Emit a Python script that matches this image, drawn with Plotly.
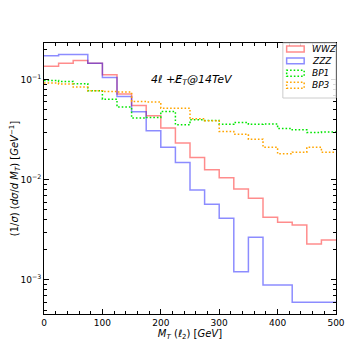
import plotly.graph_objects as go

# bin edges in GeV (25 GeV bins)
bin_edges = [0, 25, 50, 75, 100, 125, 150, 175, 200, 225, 250,
             275, 300, 325, 350, 375, 400, 425, 450, 475, 500]

# normalised distributions (1/sigma dsigma/dMT)
wwz = [0.136, 0.146, 0.156, 0.146, 0.112, 0.072, 0.0553, 0.0437, 0.0329, 0.0234,
       0.0167, 0.0126, 0.0105, 0.0081, 0.00656, 0.00424, 0.00378, 0.00355, 0.00229, 0.00251]
zzz = [0.174, 0.179, 0.179, 0.146, 0.105, 0.068, 0.048, 0.031, 0.0212, 0.0149,
       0.0079, 0.0057, 0.00414, 0.00121, 0.00267, 0.00089, 0.00089, 0.000598, 0.000598, 0.000598]
bp1 = [0.0985, 0.0962, 0.0912, 0.0776, 0.064, 0.0533, 0.0414, 0.042, 0.0482, 0.0355,
       0.0398, 0.0392, 0.036, 0.0375, 0.036, 0.0362, 0.0326, 0.0316, 0.0297, 0.030]
bp3 = [0.0926, 0.0905, 0.0845, 0.0776, 0.0765, 0.0755, 0.0607, 0.060, 0.052, 0.052,
       0.0407, 0.039, 0.0304, 0.0286, 0.0255, 0.0212, 0.0182, 0.0189, 0.0212, 0.0189]

DOTTED = "1.6px,2px"  # matplotlib-like ':' pattern
series = [
    ("WWZ", wwz, "rgba(255,0,0,0.45)", "solid"),
    ("ZZZ", zzz, "rgba(0,0,255,0.45)", "solid"),
    ("BP1", bp1, "rgb(0,230,0)", DOTTED),
    ("BP3", bp3, "rgb(255,165,0)", DOTTED),
]

fig = go.Figure()
for name, vals, col, dash in series:
    fig.add_trace(go.Scatter(
        x=bin_edges, y=list(vals) + [vals[-1]], mode="lines", line_shape="hv",
        line=dict(color=col, width=1.5, dash=dash), name=name, showlegend=False,
        hoverinfo="skip"))

# hand-drawn legend (matplotlib-style compact box with outlined patches)
shapes = [dict(type="rect", xref="paper", yref="paper", x0=0.818, x1=1.0, y0=0.797, y1=1.0,
               fillcolor="rgba(255,255,255,0.85)", line=dict(color="#cccccc", width=1))]
annotations = []
row_y = [0.978, 0.934, 0.888, 0.844]
for (name, vals, col, dash), yy in zip(series, row_y):
    shapes.append(dict(type="rect", xref="paper", yref="paper", x0=0.831, x1=0.891,
                       y0=yy - 0.011, y1=yy + 0.011, fillcolor="rgba(0,0,0,0)",
                       line=dict(color=col, width=1.5, dash=dash)))
    annotations.append(dict(x=0.912, y=yy, xref="paper", yref="paper", xanchor="left",
                            yanchor="middle", text="<i>%s</i>" % name, showarrow=False,
                            font=dict(size=9, color="black")))

annotations.append(dict(x=180, y=-1, xref="x", yref="y", xanchor="left", yanchor="middle",
                        text="<i>4ℓ +E̸<sub>T</sub>@14TeV</i>", showarrow=False,
                        font=dict(size=11, color="black")))

axis_common = dict(showline=True, linecolor="black", linewidth=1, mirror="ticks",
                   ticks="inside", tickcolor="black", showgrid=False, zeroline=False,
                   automargin=False,
                   tickfont=dict(family="DejaVu Sans", size=9, color="black"))

# page body adds an 8px offset, so the figure is 346 px and margins are trimmed by 8
fig.update_layout(
    width=346, height=346, margin=dict(l=36, r=18, t=35, b=40),
    plot_bgcolor="white", paper_bgcolor="white",
    font=dict(family="DejaVu Sans", size=9, color="black"),
    xaxis=dict(range=[0, 500], tickvals=[0, 100, 200, 300, 400, 500], ticklen=5,
               minor=dict(ticks="inside", dtick=20, ticklen=3, tickcolor="black"),
               title=dict(text="<i>M<sub>T</sub></i> (<i>ℓ</i><sub>2</sub>) [<i>GeV</i>]",
                          font=dict(size=10), standoff=2),
               **axis_common),
    yaxis=dict(type="log", range=[-3.34, -0.633], ticklen=5,
               tickvals=[1e-3, 1e-2, 1e-1],
               ticktext=["10<sup>−3</sup>", "10<sup>−2</sup>", "10<sup>−1</sup>"],
               minor=dict(ticks="inside", ticklen=3, tickcolor="black",
                          tickvals=[5e-4, 6e-4, 7e-4, 8e-4, 9e-4,
                                    2e-3, 3e-3, 4e-3, 5e-3, 6e-3, 7e-3, 8e-3, 9e-3,
                                    2e-2, 3e-2, 4e-2, 5e-2, 6e-2, 7e-2, 8e-2, 9e-2, 2e-1]),
               title=dict(text="(1/<i>σ</i>) (<i>dσ</i>/<i>d M<sub>T</sub></i>) [<i>GeV</i><sup>−1</sup>]",
                          font=dict(size=10), standoff=4),
               **axis_common),
    shapes=shapes,
    annotations=annotations,
)

fig.write_html("out.html")
